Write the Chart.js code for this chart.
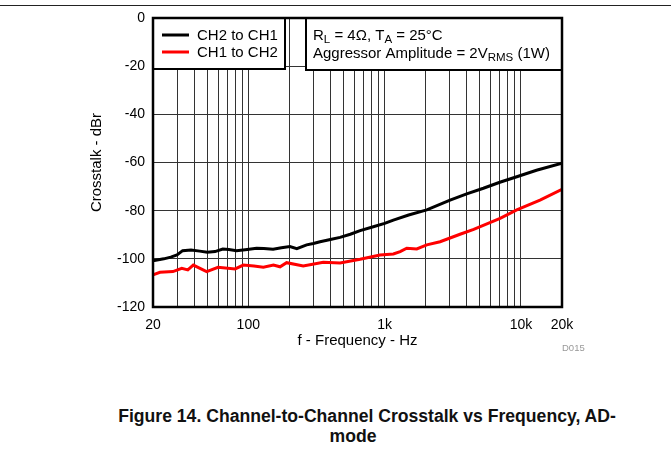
<!DOCTYPE html>
<html>
<head>
    <title>Channel-to-Channel Crosstalk vs Frequency</title>
    <script src="https://cdn.jsdelivr.net/npm/chart.js"></script>
    <style>
        body {
            margin: 0;
            width: 671px;
            height: 456px;
            background: white;
            font-family: "Liberation Sans", Arial, sans-serif;
            position: relative;
            overflow: hidden;
        }
        .rule {
            position: absolute;
            left: 0;
            top: 5px;
            width: 671px;
            height: 1px;
            background: #222;
        }
        .chart-box {
            position: absolute;
            left: 0;
            top: 0;
            width: 671px;
            height: 360px;
        }
        .code {
            position: absolute;
            left: 562px;
            top: 342px;
            font-size: 9.5px;
            color: #999;
        }
        .caption {
            position: absolute;
            width: 560px;
            text-align: center;
            font-weight: bold;
            font-size: 17.6px;
            line-height: 20px;
            color: #111;
        }
    </style>
</head>
<body>
    <div class="rule"></div>
    <div class="chart-box"><canvas id="chart" width="671" height="360"></canvas></div>
    <div class="code">D015</div>
    <div class="caption" style="left: 87px; top: 406px;">Figure 14. Channel-to-Channel Crosstalk vs Frequency, AD-</div>
    <div class="caption" style="left: 73px; top: 426px;">mode</div>
    <script>
        // data
        const seriesNames = ['CH2 to CH1', 'CH1 to CH2'];
        const seriesColors = ['#000000', '#ff0000'];

        const ch2Freq = [20, 24, 27, 30, 33, 38, 44, 50, 57, 65, 72, 82, 95, 115, 130, 152, 175, 202, 227, 268, 300, 336, 400, 471, 560, 661, 826, 1000, 1159, 1500, 2038, 3020, 4000, 5300, 7000, 9320, 13000, 20000];
        const ch2Db = [-100.8, -100, -99.3, -98.4, -96.6, -96.3, -96.8, -97.3, -97.0, -95.9, -96.1, -96.6, -96.2, -95.6, -95.7, -96.0, -95.4, -94.9, -95.8, -94.2, -93.6, -92.9, -92.0, -91.1, -89.8, -88.3, -86.7, -85.3, -83.9, -81.8, -79.7, -75.6, -73.0, -70.7, -68.2, -65.9, -63.2, -60.3];

        const ch1Freq = [20, 22.5, 28, 32.5, 36, 39.5, 49.5, 60, 80, 92, 110, 129, 153, 171, 191, 253, 355, 471, 661, 925, 1159, 1300, 1453, 1721, 2038, 2552, 3575, 4500, 7030, 9320, 13800, 20000];
        const ch1Db = [-106.7, -105.6, -105.3, -103.9, -104.6, -102.6, -105.3, -103.5, -104.2, -102.6, -103.0, -103.5, -102.6, -103.3, -101.6, -103.0, -101.4, -101.7, -100.2, -98.4, -98.0, -97.0, -95.6, -95.9, -94.2, -92.9, -89.8, -87.8, -83.2, -79.7, -75.6, -71.1];

        // grid positions on the frequency axis, and which of them get a label
        const freqGrid = [20, 30, 40, 50, 60, 70, 80, 90, 100, 200, 300, 400, 500, 600, 700, 800, 900, 1000, 2000, 3000, 4000, 5000, 6000, 7000, 8000, 9000, 10000, 20000];
        const freqLabels = { 20: '20', 100: '100', 1000: '1k', 10000: '10k', 20000: '20k' };
        const dbTicks = [0, -20, -40, -60, -80, -100, -120];

        const annotationLines = [
            [['R', 0], ['L', 1], [' = 4\u03A9, T', 0], ['A', 1], [' = 25\u00B0C', 0]],
            [['Aggressor Amplitude = 2V', 0], ['RMS', 1], [' (1W)', 0]]
        ];

        const FONT = '"Liberation Sans", Arial, sans-serif';

        function toPoints(xs, ys) {
            return xs.map((x, i) => ({ x: x, y: ys[i] }));
        }

        // frame, legend box and condition box
        const boxesPlugin = {
            id: 'boxes',
            afterDraw(chart) {
                const ctx = chart.ctx;
                const a = chart.chartArea;
                ctx.save();

                // legend box
                const lx = a.left, ly = a.top, lw = 132, lh = 51;
                ctx.fillStyle = 'white';
                ctx.fillRect(lx, ly, lw, lh);
                ctx.lineWidth = 2;
                ctx.strokeStyle = '#000';
                ctx.strokeRect(lx, ly, lw, lh);
                ctx.font = '15px ' + FONT;
                ctx.textBaseline = 'middle';
                chart.data.datasets.forEach((ds, i) => {
                    const y = ly + 17 + i * 17;
                    ctx.strokeStyle = ds.borderColor;
                    ctx.lineWidth = 3;
                    ctx.beginPath();
                    ctx.moveTo(lx + 9, y);
                    ctx.lineTo(lx + 36, y);
                    ctx.stroke();
                    ctx.fillStyle = '#000';
                    ctx.fillText(ds.label, lx + 44, y + 1);
                });

                // conditions box
                const bx = 306, by = a.top, bw = a.right - 306, bh = 52;
                ctx.fillStyle = 'white';
                ctx.fillRect(bx, by, bw, bh);
                ctx.lineWidth = 2;
                ctx.strokeStyle = '#000';
                ctx.strokeRect(bx, by, bw, bh);
                ctx.fillStyle = '#000';
                ctx.textBaseline = 'alphabetic';
                annotationLines.forEach((parts, i) => {
                    let x = bx + 7;
                    const base = by + 22 + i * 18;
                    parts.forEach(([txt, sub]) => {
                        ctx.font = (sub ? '11.5px ' : '15px ') + FONT;
                        ctx.fillText(txt, x, base + (sub ? 3 : 0));
                        x += ctx.measureText(txt).width;
                    });
                });

                // plot frame
                ctx.lineWidth = 2.5;
                ctx.strokeStyle = '#000';
                ctx.strokeRect(a.left, a.top, a.right - a.left, a.bottom - a.top);
                ctx.restore();
            }
        };

        const ctx = document.getElementById('chart').getContext('2d');
        new Chart(ctx, {
            type: 'line',
            data: {
                datasets: [
                    {
                        label: seriesNames[0],
                        data: toPoints(ch2Freq, ch2Db),
                        borderColor: seriesColors[0],
                        borderWidth: 3,
                        pointRadius: 0,
                        tension: 0
                    },
                    {
                        label: seriesNames[1],
                        data: toPoints(ch1Freq, ch1Db),
                        borderColor: seriesColors[1],
                        borderWidth: 3,
                        pointRadius: 0,
                        tension: 0
                    }
                ]
            },
            options: {
                responsive: false,
                animation: false,
                layout: { padding: { left: 86, top: 18, right: 109, bottom: 10 } },
                plugins: {
                    legend: { display: false },
                    tooltip: { enabled: false }
                },
                scales: {
                    x: {
                        type: 'logarithmic',
                        min: 20,
                        max: 20000,
                        afterBuildTicks: scale => {
                            scale.ticks = freqGrid.map(v => ({ value: v }));
                        },
                        afterFit: scale => { scale.height = 43; },
                        ticks: {
                            autoSkip: false,
                            maxRotation: 0,
                            padding: 10,
                            color: '#000',
                            font: { family: FONT, size: 14 },
                            callback: v => freqLabels[v] || ''
                        },
                        grid: { color: '#333', lineWidth: 1, drawTicks: false },
                        border: { display: false },
                        title: {
                            display: true,
                            text: 'f - Frequency - Hz',
                            color: '#000',
                            font: { family: FONT, size: 15 },
                            padding: { top: 0, bottom: 0 }
                        }
                    },
                    y: {
                        min: -120,
                        max: 0,
                        afterBuildTicks: scale => {
                            scale.ticks = dbTicks.map(v => ({ value: v }));
                        },
                        afterFit: scale => { scale.width = 67; },
                        ticks: {
                            padding: 8,
                            color: '#000',
                            font: { family: FONT, size: 14 }
                        },
                        grid: { color: '#333', lineWidth: 1, drawTicks: false },
                        border: { display: false },
                        title: {
                            display: true,
                            text: 'Crosstalk - dBr',
                            color: '#000',
                            font: { family: FONT, size: 15 },
                            padding: { top: 2, bottom: 0 }
                        }
                    }
                }
            },
            plugins: [boxesPlugin]
        });
    </script>
</body>
</html>
